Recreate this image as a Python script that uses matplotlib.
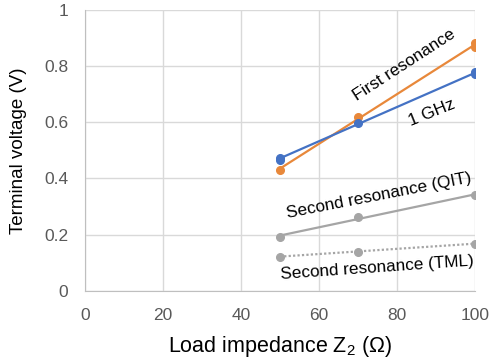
import numpy as np
import matplotlib.pyplot as plt

plt.rcParams['font.family'] = ['Liberation Sans', 'DejaVu Sans']
plt.rcParams['mathtext.fontset'] = 'custom'
plt.rcParams['mathtext.rm'] = 'Liberation Sans'

# Data (repeated points at some loads)
z_first = [50, 70, 100, 100]
v_first = [0.43, 0.618, 0.880, 0.868]

z_1ghz = [50, 50, 70, 100, 100]
v_1ghz = [0.474, 0.465, 0.598, 0.778, 0.770]

z_qit = [50, 70, 100]
v_qit = [0.192, 0.263, 0.340]

z_tml = [50, 70, 100]
v_tml = [0.122, 0.140, 0.168]

x_ticks = [0, 20, 40, 60, 80, 100]
y_ticks = [0, 0.2, 0.4, 0.6, 0.8, 1]
y_tick_labels = ['0', '0.2', '0.4', '0.6', '0.8', '1']

orange = '#E8883A'
blue = '#4472C4'
gray = '#A5A5A5'

fig = plt.figure(figsize=(4.96, 3.6), dpi=100)
ax = fig.add_axes([0.171, 0.192, 0.786, 0.781])


def series(x, y, color, ls='-'):
    # markers for the data, straight trendline through them
    x = np.asarray(x, float)
    y = np.asarray(y, float)
    k, b = np.polyfit(x, y, 1)
    xs = np.array([x.min(), x.max()])
    ax.plot(xs, k * xs + b, color=color, lw=1.6, ls=ls, zorder=3)
    ax.plot(x, y, 'o', color=color, ms=5.5, zorder=4)


series(z_first, v_first, orange)
series(z_1ghz, v_1ghz, blue)
series(z_qit, v_qit, gray)
series(z_tml, v_tml, gray, ls=(0, (1, 1)))

ax.set_xlim(0, 100)
ax.set_ylim(0, 1)
ax.set_xticks(x_ticks)
ax.set_yticks(y_ticks)
ax.set_yticklabels(y_tick_labels)
ax.grid(True, color='#D9D9D9', lw=1)
ax.set_axisbelow(True)
for s in ['top', 'right']:
    ax.spines[s].set_visible(False)
for s in ['left', 'bottom']:
    ax.spines[s].set_color('#BFBFBF')
ax.tick_params(length=0, labelsize=12.5, colors='#595959')
ax.tick_params(axis='y', pad=12)
ax.tick_params(axis='x', pad=12)

ax.set_xlabel(r'Load impedance $\mathregular{Z_2}$ (Ω)', fontsize=15.5, labelpad=8)
ax.set_ylabel('Terminal voltage (V)', fontsize=13.5, labelpad=12)

ax.text(82, 0.805, 'First resonance', rotation=33, fontsize=12.3,
        ha='center', va='center')
ax.text(89, 0.633, '1 GHz', rotation=22, fontsize=12.3,
        ha='center', va='center')
ax.text(75.4, 0.338, 'Second resonance (QIT)', rotation=11, fontsize=12.3,
        ha='center', va='center')
ax.text(75.1, 0.082, 'Second resonance (TML)', rotation=4, fontsize=12.3,
        ha='center', va='center')

fig.savefig('out.png', dpi=100)
